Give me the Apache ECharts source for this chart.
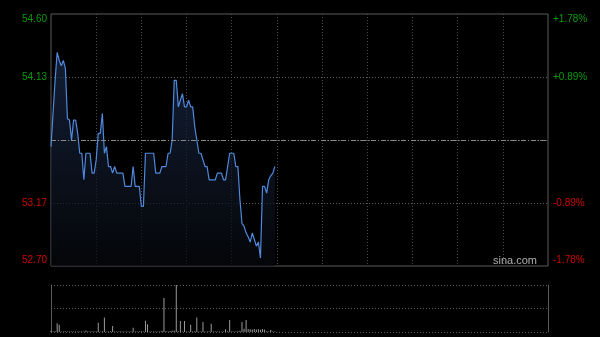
<!DOCTYPE html>
<html>
<head>
<meta charset="utf-8">
<script src="https://cdn.jsdelivr.net/npm/echarts@6/dist/echarts.min.js"></script>
<style>
html,body{margin:0;padding:0;background:#000;}
#c{width:600px;height:337px;}
</style>
</head>
<body>
<div id="c"></div>
<script>
// price per minute from the open (index = minute)
const prices = [
  53.60, 53.85, 54.10, 54.31, 54.25, 54.21, 54.25, 54.19, 53.81, 53.80,
  53.65, 53.80, 53.80, 53.70, 53.55, 53.55, 53.35, 53.55, 53.55, 53.55,
  53.40, 53.40, 53.50, 53.70, 53.70, 53.85, 53.55, 53.60, 53.45, 53.45,
  53.40, 53.45, 53.40, 53.40, 53.40, 53.40, 53.30, 53.30, 53.30, 53.30,
  53.45, 53.30, 53.30, 53.30, 53.15, 53.15, 53.55, 53.55, 53.55, 53.55,
  53.55, 53.40, 53.40, 53.40, 53.45, 53.45, 53.45, 53.55, 53.55, 53.65,
  54.10, 54.10, 53.90, 53.95, 54.00, 53.90, 53.90, 53.95, 53.90, 53.90,
  53.75, 53.65, 53.55, 53.55, 53.50, 53.45, 53.45, 53.35, 53.35, 53.35,
  53.35, 53.40, 53.40, 53.40, 53.35, 53.35, 53.45, 53.55, 53.55, 53.55,
  53.45, 53.45, 53.20, 53.02, 53.00, 52.95, 52.92, 52.88, 52.95, 52.90,
  52.85, 52.88, 52.76, 53.30, 53.30, 53.25, 53.35, 53.38, 53.40, 53.45
];
// volume per minute (relative units)
const volumes = [
  12, 6, 8, 87, 73, 6, 5, 8, 6, 5,
  4, 5, 4, 6, 5, 4, 6, 15, 5, 4,
  5, 4, 6, 93, 5, 8, 143, 6, 5, 8,
  60, 5, 6, 4, 5, 4, 6, 5, 4, 6,
  43, 5, 6, 4, 8, 6, 113, 77, 5, 4,
  6, 5, 4, 6, 12, 337, 8, 6, 10, 12,
  15, 467, 8, 110, 6, 110, 5, 6, 73, 5,
  8, 143, 6, 5, 100, 6, 5, 4, 83, 5,
  4, 6, 5, 4, 6, 27, 8, 120, 6, 5,
  4, 8, 12, 100, 33, 120, 30, 28, 25, 30,
  26, 28, 22, 30, 25, 8, 6, 20, 6, 5
];
const priceMin = 52.70;
const priceMax = 54.60;
const prevClose = 53.65;
const leftLabels = ['52.70', '53.17', '', '54.13', '54.60'];
const rightLabels = ['-1.78%', '-0.89%', '', '+0.89%', '+1.78%'];
const sessionMinutes = 242;
const gridStep = 22;

const chart = echarts.init(document.getElementById('c'), null, {renderer: 'canvas'});
const volMax = Math.max(...volumes);
const priceInterval = (priceMax - priceMin) / 4;
const GREEN = '#0a9a0a';
const RED = '#d10000';
const FONT = 'Liberation Sans, Arial, sans-serif';

function labelRich() {
  return {
    gTop: {color: GREEN, fontSize: 10, fontFamily: FONT, padding: [11, 0, 0, 0]},
    g: {color: GREEN, fontSize: 10, fontFamily: FONT},
    r: {color: RED, fontSize: 10, fontFamily: FONT},
    rBot: {color: RED, fontSize: 10, fontFamily: FONT, padding: [0, 0, 11, 0]}
  };
}
function styleFor(i, text) {
  if (!text) return '';
  const key = i === 4 ? 'gTop' : i === 3 ? 'g' : i === 1 ? 'r' : 'rBot';
  return '{' + key + '|' + text + '}';
}

const option = {
  backgroundColor: '#000',
  animation: false,
  grid: [
    {left: 51, right: 52, top: 14, height: 252, show: true, borderColor: '#5a5a5a', borderWidth: 1, backgroundColor: 'transparent'},
    {left: 51, right: 52, top: 285, height: 47, show: false}
  ],
  xAxis: [
    {
      type: 'value', gridIndex: 0, min: 0, max: sessionMinutes, interval: gridStep,
      axisLine: {show: false}, axisTick: {show: false}, axisLabel: {show: false},
      splitLine: {show: true, showMinLine: false, showMaxLine: false,
        lineStyle: {color: '#4a4a4a', type: [1, 2], width: 1}}
    },
    {
      type: 'value', gridIndex: 1, min: 0, max: sessionMinutes,
      axisLine: {show: false}, axisTick: {show: false}, axisLabel: {show: false},
      splitLine: {show: false}
    }
  ],
  yAxis: [
    {
      type: 'value', gridIndex: 0, position: 'left', min: priceMin, max: priceMax, interval: priceInterval,
      axisLine: {show: false}, axisTick: {show: false},
      axisLabel: {margin: 4, formatter: (v, i) => styleFor(i, leftLabels[i]), rich: labelRich()},
      splitLine: {show: true, showMinLine: false, showMaxLine: false,
        lineStyle: {color: '#5e5e5e', type: [1, 2], width: 1}}
    },
    {
      type: 'value', gridIndex: 0, position: 'right', min: priceMin, max: priceMax, interval: priceInterval,
      axisLine: {show: false}, axisTick: {show: false},
      axisLabel: {margin: 5, formatter: (v, i) => styleFor(i, rightLabels[i]), rich: labelRich()},
      splitLine: {show: false}
    },
    {
      type: 'value', gridIndex: 1, position: 'left', min: 0, max: volMax, interval: volMax / 2,
      axisLine: {show: true, lineStyle: {color: '#5a5a5a', width: 1}}, axisTick: {show: false}, axisLabel: {show: false},
      splitLine: {show: true, showMinLine: true, showMaxLine: true,
        lineStyle: {color: '#5e5e5e', type: [1, 2], width: 1}}
    },
    {
      type: 'value', gridIndex: 1, position: 'right', min: 0, max: volMax, interval: volMax / 2,
      axisLine: {show: true, lineStyle: {color: '#5a5a5a', width: 1}}, axisTick: {show: false}, axisLabel: {show: false},
      splitLine: {show: false}
    }
  ],
  series: [
    {
      type: 'line', xAxisIndex: 0, yAxisIndex: 0,
      data: prices.map((p, i) => [i, p]),
      showSymbol: false, silent: true,
      lineStyle: {color: '#4f88dc', width: 1.2},
      areaStyle: {
        color: new echarts.graphic.LinearGradient(0, 0, 0, 1, [
          {offset: 0, color: '#1b2c4c'},
          {offset: 1, color: '#06080c'}
        ])
      },
      markLine: {
        silent: true, symbol: 'none', label: {show: false},
        lineStyle: {color: '#8a8a8a', type: [5, 2, 1, 2], width: 1},
        data: [{yAxis: prevClose}]
      },
      z: 3
    },
    {
      type: 'bar', xAxisIndex: 1, yAxisIndex: 2,
      data: volumes.map((v, i) => [i, v]),
      barWidth: 1, silent: true,
      itemStyle: {color: '#9a9a9a'}
    }
  ],
  graphic: [
    {type: 'text', right: 63, top: 255,
      style: {text: 'sina.com', fill: '#b0b0b0', fontSize: 11, fontFamily: FONT}}
  ]
};
chart.setOption(option);
</script>
</body>
</html>
